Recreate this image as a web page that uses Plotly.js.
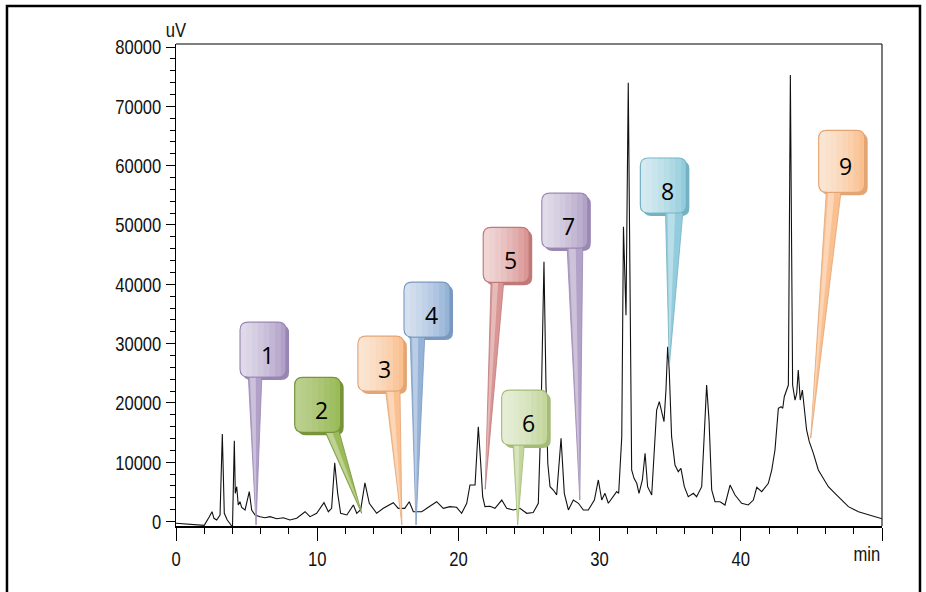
<!DOCTYPE html>
<html><head><meta charset="utf-8">
<script src="https://cdn.plot.ly/plotly-3.0.1.min.js"></script>
<style>html,body{margin:0;padding:0;background:#fff}#chart{width:926px;height:592px}</style>
</head><body><div id="chart"></div>
<script>
// ---- data ----
const timeMin = [0,1.0,2.0,2.36,2.55,2.69,2.88,3.12,3.28,3.42,3.63,3.87,4.0,4.13,4.2,4.3,4.41,4.53,4.65,4.89,5.19,5.36,5.6,5.95,6.3,6.66,7.13,7.6,8.07,8.55,9.14,9.49,9.96,10.48,10.79,11.02,11.24,11.45,11.66,12.1,12.56,12.8,13.08,13.38,13.69,14.21,14.68,15.39,15.74,16.2,16.52,16.81,17.4,17.87,18.46,18.93,19.4,19.87,20.23,20.59,20.82,21.18,21.41,21.58,21.72,21.88,22.24,22.59,23.07,23.42,23.89,24.36,24.84,25.3,25.66,25.85,26.06,26.2,26.33,26.49,26.72,26.96,27.27,27.5,27.79,28.14,28.5,28.85,29.2,29.63,29.91,30.15,30.38,30.62,30.97,31.21,31.35,31.57,31.69,31.8,31.87,32.03,32.15,32.27,32.44,32.63,32.79,33.03,33.22,33.4,33.69,33.87,34.04,34.23,34.4,34.56,34.7,34.82,34.93,35.1,35.34,35.57,35.76,36.0,36.28,36.64,36.87,37.23,37.42,37.58,37.75,37.94,38.17,38.53,38.88,39.24,39.59,40.06,40.53,40.89,41.13,41.48,41.95,42.19,42.42,42.66,42.85,42.97,43.08,43.25,43.37,43.51,43.67,43.84,43.96,44.07,44.21,44.36,44.5,44.66,44.85,45.14,45.49,45.84,46.2,46.67,47.15,47.62,48.33,49.03,49.86,50];
const signalUV = [-300,-450,-650,800,1650,540,250,1100,14750,1380,250,-500,-1000,13600,4750,5870,2780,3340,2390,1940,5030,1940,1100,810,640,810,470,640,250,560,1650,810,1380,3170,1650,2220,9910,4750,1380,1100,2780,1380,2000,6500,3070,1380,2220,3170,2220,2220,3340,1650,1650,2390,3340,2220,2500,2390,1380,3070,6150,6150,15980,9810,4180,2500,2580,2220,3620,2220,1940,2220,1380,1500,3070,17700,43800,23300,9810,5870,5310,4500,14030,4750,1940,3620,3070,1940,1940,3620,7000,3620,4750,3070,4180,5030,4750,14300,49700,42400,34800,74000,36800,8680,7280,6440,4750,7000,11500,5870,4470,11500,18800,20200,18240,16830,22170,29470,25540,14300,9530,8400,8970,5870,4180,4750,4180,5870,15000,23000,17100,5310,3340,3340,2780,6150,4470,3070,2780,3620,5760,5030,6440,8680,12060,19090,19360,19090,21040,22460,23010,75280,23010,20480,21610,25540,20480,22170,18800,15430,13460,11500,8680,7280,5870,4750,3620,2500,1650,1100,540,450];
const xTickVals = [0,10,20,30,40,50];
const xTickText = ['0','10','20','30','40',''];
const yTickVals = [0,10000,20000,30000,40000,50000,60000,70000,80000];
const yTickText = ['0','10000','20000','30000','40000','50000','60000','70000','80000'];
const peakLabels = ['1','2','3','4','5','6','7','8','9'];
const peakTime  = [5.67,13.15,16.0,17.0,21.9,24.2,28.6,34.94,44.95];
const peakValue = [-600,1380,-600,-600,5430,-600,3620,26390,14030];

// ---- callout styling (pixel offsets from the pointer tip, y up) ----
const calloutGeom = [
 {dx:-16,dyT:203,h:55,tl:-8,tr:6},
 {dx:-67,dyT:136,h:55,tl:-39,tr:-24},
 {dx:-44,dyT:189,h:55,tl:-17,tr:-2},
 {dx:-12,dyT:243,h:55,tl:-6,tr:9},
 {dx:-2,dyT:262,h:55,tl:6,tr:19},
 {dx:-16,dyT:135,h:55,tl:-5,tr:7},
 {dx:-38,dyT:307,h:55,tl:-13,tr:3},
 {dx:-29,dyT:207,h:55,tl:-4,tr:14},
 {dx:8,dyT:308,h:62,tl:16,tr:31}
];
const calloutColors = [
 {dark:'#b1a0c7',shadow:'#9885b4',g:0.13},
 {dark:'#9bbb59',shadow:'#77933c',g:0.06},
 {dark:'#fac090',shadow:'#e3a574',g:0.13},
 {dark:'#95b3d7',shadow:'#7a98c0',g:0.13},
 {dark:'#d99694',shadow:'#bf7a78',g:0.13},
 {dark:'#c3d69b',shadow:'#a5bb78',g:0.13},
 {dark:'#b3a2c7',shadow:'#9a87b4',g:0.13},
 {dark:'#93cddd',shadow:'#74b1c3',g:0.13},
 {dark:'#fac090',shadow:'#e3a574',g:0.13}
];
const BOX_W = 46, RAD = 8;

function boxPath(L, T, W, H, r, squareRight) {
  const R = L + W, B = T - H;
  if (squareRight) {
    return `M ${L+r},${T} L ${R},${T} L ${R},${B} L ${L+r},${B} Q ${L},${B} ${L},${B+r} L ${L},${T-r} Q ${L},${T} ${L+r},${T} Z`;
  }
  return `M ${L+r},${T} L ${R-r},${T} Q ${R},${T} ${R},${T-r} L ${R},${B+r} Q ${R},${B} ${R-r},${B} L ${L+r},${B} Q ${L},${B} ${L},${B+r} L ${L},${T-r} Q ${L},${T} ${L+r},${T} Z`;
}

const shapes = [];
const annotations = [];
peakLabels.forEach((lab, i) => {
  const g = calloutGeom[i], c = calloutColors[i];
  const base = {type:'path', xref:'x', yref:'y', xsizemode:'pixel', ysizemode:'pixel',
                xanchor: peakTime[i], yanchor: peakValue[i], layer:'above', line:{width:0}};
  const L = g.dx, T = g.dyT, H = g.h, bot = T - H;
  shapes.push(Object.assign({}, base, {path: boxPath(L+3, T-3, BOX_W, H, RAD), fillcolor: c.shadow}));
  shapes.push(Object.assign({}, base, {path: `M ${g.tl},${bot+6} L ${g.tr},${bot+6} L 0,0 Z`, fillcolor: c.dark, line:{width:0.8, color:c.shadow}}));
  const mid = (g.tl + g.tr) / 2, hw = (g.tr - g.tl) / 2;
  shapes.push(Object.assign({}, base, {path: `M ${mid-hw*0.75},${bot+4} L ${mid+hw*0.1},${bot+4} L 0,2 Z`, fillcolor: 'rgba(255,255,255,0.35)'}));
  shapes.push(Object.assign({}, base, {path: boxPath(L, T, BOX_W, H, RAD), fillcolor: c.dark, line:{width:1.2, color:c.shadow}}));
  const N = 7;
  for (let k = 0; k < N; k++) {
    const w = BOX_W * (N - k) / (N + 1);
    shapes.push(Object.assign({}, base, {path: boxPath(L+0.6, T-0.6, w, H-1.2, RAD-0.6, true), fillcolor: `rgba(255,255,255,${c.g})`}));
  }
  annotations.push({x: peakTime[i], y: peakValue[i], xref:'x', yref:'y', showarrow:false,
    text: lab, xshift: L + BOX_W/2 + 4, yshift: T - H/2 - 5,
    font:{family:'Open Sans, Noto Sans, sans-serif', size:23, color:'#000'}});
});

const tickFont = {family:'Liberation Sans, Arial, sans-serif', size:21, color:'#111'};
annotations.push({xref:'paper', yref:'paper', x:0, y:1.03, text:'uV', showarrow:false, xanchor:'center', yanchor:'middle', font:tickFont});
annotations.push({xref:'paper', yref:'paper', x:0.979, y:-0.058, text:'min', showarrow:false, xanchor:'center', yanchor:'middle', font:tickFont});

// plot frame top/right (grey) and outer frame
shapes.push({type:'line', xref:'paper', yref:'paper', x0:0, x1:1, y0:1, y1:1, line:{color:'#555', width:1.3}, layer:'above'});
shapes.push({type:'line', xref:'paper', yref:'paper', x0:1, x1:1, y0:0, y1:1, line:{color:'#333', width:1.3}, layer:'above'});
shapes.push({type:'rect', xref:'paper', yref:'paper', x0:-0.2394, x1:1.0538, y0:-0.2, y1:1.0788, line:{color:'#000', width:2.5}, layer:'above'});

const trace = {x: timeMin, y: signalUV, type:'scatter', mode:'lines', line:{color:'#111', width:1.1}, hoverinfo:'skip'};

const layout = {
  width:926, height:592, margin:{l:176, r:44, t:44, b:66},
  paper_bgcolor:'#fff', plot_bgcolor:'#fff', showlegend:false,
  xaxis:{range:[0,50], tickmode:'array', tickvals:xTickVals, ticktext:xTickText, ticks:'outside', ticklen:13, tickwidth:1, tickcolor:'#000',
    minor:{tickmode:'linear', tick0:0, dtick:2, ticks:'outside', ticklen:6, tickcolor:'#000', tickwidth:1},
    showline:true, linecolor:'#000', linewidth:1.5, mirror:false, showgrid:false, zeroline:false, tickfont:tickFont},
  yaxis:{range:[-760,80520], tickmode:'array', tickvals:yTickVals, ticktext:yTickText, ticks:'outside', ticklen:9, tickwidth:1, tickcolor:'#000',
    minor:{tickmode:'linear', tick0:0, dtick:2000, ticks:'outside', ticklen:5, tickcolor:'#000', tickwidth:1},
    showline:true, linecolor:'#000', linewidth:1.5, mirror:false, showgrid:false, zeroline:false, tickfont:tickFont},
  shapes: shapes, annotations: annotations
};
Plotly.newPlot('chart', [trace], layout, {staticPlot:true, displayModeBar:false}).then(gd => {
  // condense the axis lettering like the original narrow face
  const els = Array.from(gd.querySelectorAll('.xtick text, .ytick text, .annotation-text'))
    .filter(t => t.closest('.xtick') || t.closest('.ytick') || t.textContent === 'uV' || t.textContent === 'min');
  els.forEach(t => {
    try {
      const w = t.getComputedTextLength();
      if (w > 0) { t.setAttribute('textLength', (w * 0.79).toFixed(1)); t.setAttribute('lengthAdjust', 'spacingAndGlyphs'); }
    } catch (e) {}
  });
});
</script></body></html>
